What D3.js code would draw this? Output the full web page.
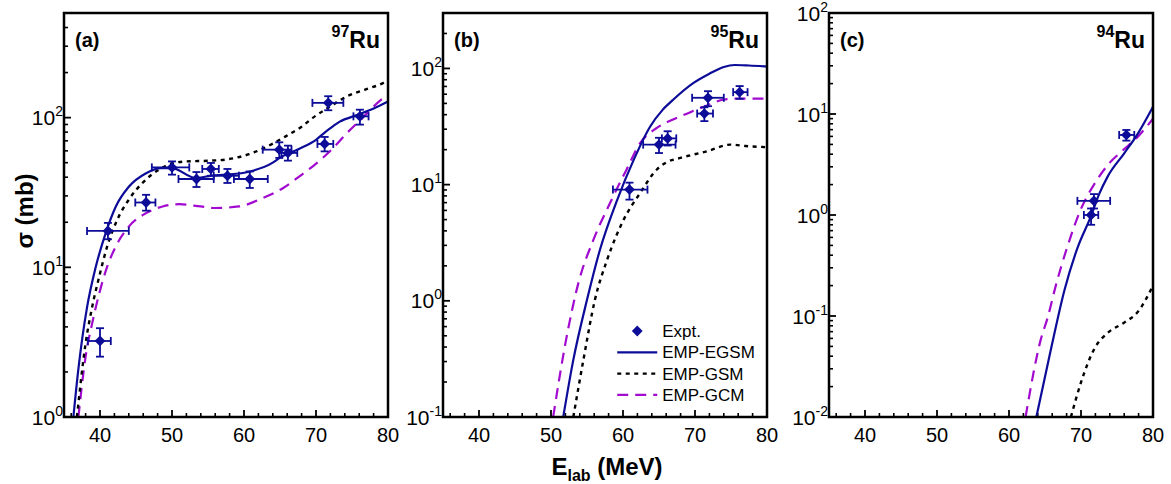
<!DOCTYPE html>
<html><head><meta charset="utf-8">
<script src="https://cdn.jsdelivr.net/npm/d3@7"></script>
<style>body{margin:0;background:#fff}svg{display:block;font-family:Arial,"Liberation Sans",sans-serif}</style>
</head><body><svg id="chart" width="1171" height="484"></svg>
<script>
// ---------- data ----------
const xDomain = [35, 80];
const xMajorTicks = [40, 50, 60, 70, 80];
const xMinorTicks = [36, 38, 42, 44, 46, 48, 52, 54, 56, 58, 62, 64, 66, 68, 72, 74, 76, 78];
const panelLabels = ["(a)", "(b)", "(c)"];
const massNumbers = ["97", "95", "94"];
const elementName = "Ru";
const yDomains = [[1, 500], [0.1, 300], [0.01, 100]];
const yMajorTicks = [[1, 10, 100], [0.1, 1, 10, 100], [0.01, 0.1, 1, 10, 100]];
const yTickExps = [["0", "1", "2"], ["-1", "0", "1", "2"], ["-2", "-1", "0", "1", "2"]];
const legendLabels = ["Expt.", "EMP-EGSM", "EMP-GSM", "EMP-GCM"];
const xLabelMain = "E", xLabelSub = "lab", xLabelRest = " (MeV)";
const yLabel = "σ (mb)";

// experimental points: [E, Elow, Ehigh, sigma, sigmaLow, sigmaHigh]
const exptA = [
  [40.0, 38.3, 41.5, 3.22, 2.53, 3.92],
  [41.1, 38.2, 44.0, 17.5, 15.4, 19.8],
  [46.4, 44.9, 47.7, 27.1, 23.9, 30.5],
  [50.0, 47.2, 52.4, 46.5, 41.6, 51.0],
  [53.4, 50.9, 55.8, 38.9, 34.4, 43.3],
  [55.4, 54.2, 56.5, 45.4, 40.9, 49.8],
  [57.7, 55.8, 59.3, 40.9, 36.6, 45.4],
  [60.8, 58.6, 63.3, 38.9, 33.9, 43.7],
  [64.9, 62.6, 66.6, 61.1, 53.8, 68.4],
  [66.1, 65.2, 67.4, 58.1, 51.6, 65.0],
  [71.2, 70.2, 72.4, 66.7, 59.5, 74.3],
  [71.7, 69.5, 73.8, 125.5, 112, 139],
  [76.1, 75.2, 77.3, 102, 89.8, 113]
];
const exptB = [
  [60.9, 58.6, 63.4, 9.06, 7.43, 10.4],
  [65.0, 62.8, 67.3, 22.1, 18.7, 25.3],
  [66.2, 65.4, 67.4, 25.0, 21.7, 28.8],
  [71.3, 70.3, 72.5, 40.9, 35.2, 46.3],
  [71.8, 69.6, 74.0, 55.9, 47.3, 63.7],
  [76.2, 75.3, 77.3, 62.5, 54.8, 70.5]
];
const exptC = [
  [71.4, 70.4, 72.4, 1.00, 0.80, 1.16],
  [71.8, 69.5, 74.05, 1.38, 1.16, 1.61],
  [76.3, 75.3, 77.4, 6.2, 5.45, 6.95]
];

// model curves: [E, sigma]
const egsmA = [[36.3,1],[37,2.1],[38.2,5.4],[39.4,10],[40.8,17],[42.2,25.5],[44,34.5],[46.4,42.5],[48.5,46],[50,46],[53.3,39.5],[55.5,41],[57.5,41.6],[60.7,43.5],[64,50],[65,54],[67.7,62],[70,71],[71,78],[72,85],[73.3,94],[75.7,104],[78,115],[80,128]];
const gsmA = [[36.8,1],[38,3.1],[38.9,5.4],[39.9,8.7],[41,13.8],[42.4,20.8],[44,28.3],[45.9,36.6],[48.2,45],[50,49.5],[52,51],[55,51.5],[57.5,52.5],[60.7,57],[64,67],[66,76],[68,87],[69.6,100],[72,119],[74.2,138],[77,155],[79.4,171],[80,178]];
const gcmA = [[37,1],[38,2.53],[38.9,4.2],[39.9,6.7],[41,10.1],[42.2,13.8],[44,18.7],[46.4,23],[48.7,25.5],[51,26.4],[54,25.5],[56,24.9],[59.3,25.5],[62.6,29],[65.5,34],[67.7,40.5],[69.6,47.5],[72,60],[74.3,79],[76.5,100],[78.9,130],[80,142]];
const egsmB = [[51.7,0.1],[53.1,0.31],[55,1.02],[56.8,2.75],[59.2,7.4],[61.5,16.4],[63.8,31.8],[65.5,44],[67,54],[69.8,75],[72,90],[74,103],[75.5,107],[77.5,106],[80,104]];
const gsmB = [[53.1,0.1],[54.5,0.31],[56.1,1.02],[57.8,2.26],[60.1,5.0],[62.4,8.5],[64.7,13.5],[66,15.5],[68,17],[71.7,19.4],[74.9,22.1],[77,21.5],[80,21]];
const gcmB = [[50.3,0.1],[52,0.43],[53.8,1.42],[55.9,3.36],[58.2,6.95],[60.5,13.5],[62.4,22.9],[64.7,30.8],[67.5,37.6],[70.3,44.4],[72,49],[74,54],[76,55],[80,55]];
const egsmC = [[63.8,0.01],[65.8,0.046],[67.7,0.18],[69.5,0.47],[71.4,0.98],[72.5,1.6],[73.7,2.4],[76,4.08],[77.9,6.4],[80,11.8]];
const gsmC = [[68.6,0.01],[70,0.022],[71.9,0.048],[73.7,0.068],[76,0.086],[77.9,0.11],[80,0.2]];
const gcmC = [[62.3,0.01],[64.4,0.058],[65.4,0.098],[66.5,0.2],[68,0.46],[70,1.15],[72,2.1],[74,3.3],[75.6,4.24],[77.9,5.96],[80,9.0]];

const exptSets = [exptA, exptB, exptC];
const egsmSets = [egsmA, egsmB, egsmC];
const gsmSets = [gsmA, gsmB, gsmC];
const gcmSets = [gcmA, gcmB, gcmC];

// ---------- layout / style ----------
const panelLeft = [64, 443, 829];
const panelW = 324, plotTop = 13, plotBottom = 417;
const cBlue = "#0c0c98", cBlack = "#000", cPurple = "#a20ad0";
const styleEGSM = {stroke: cBlue, dash: null, w: 2.2};
const styleGSM = {stroke: cBlack, dash: "4,4.5", w: 2.4};
const styleGCM = {stroke: cPurple, dash: "11,7", w: 2.2};

const svg = d3.select("#chart");
const diamond = d3.symbol().type(d3.symbolSquare).size(58);

panelLeft.forEach((left, i) => {
  const x = d3.scaleLinear().domain(xDomain).range([left, left + panelW]);
  const y = d3.scaleLog().domain(yDomains[i]).range([plotBottom, plotTop]);
  const g = svg.append("g");

  const clipId = "clip" + i;
  svg.append("clipPath").attr("id", clipId).append("rect")
    .attr("x", left).attr("y", plotTop).attr("width", panelW).attr("height", plotBottom - plotTop);

  // ticks
  const [ymin, ymax] = yDomains[i];
  const minor = [];
  for (let e = Math.floor(Math.log10(ymin)); e <= Math.ceil(Math.log10(ymax)); e++) {
    for (let m = 2; m <= 9; m++) { const v = m * Math.pow(10, e); if (v > ymin && v < ymax) minor.push(v); }
  }
  g.selectAll(".ymin").data(minor).join("line")
    .attr("x1", left).attr("x2", left + 4).attr("y1", d => y(d)).attr("y2", d => y(d))
    .attr("stroke", "#000").attr("stroke-width", 1.6);
  g.selectAll(".ymaj").data(yMajorTicks[i]).join("line")
    .attr("x1", left).attr("x2", left + 7).attr("y1", d => y(d)).attr("y2", d => y(d))
    .attr("stroke", "#000").attr("stroke-width", 1.8);
  g.selectAll(".xmin").data(xMinorTicks).join("line")
    .attr("x1", d => x(d)).attr("x2", d => x(d)).attr("y1", plotBottom).attr("y2", plotBottom - 4)
    .attr("stroke", "#000").attr("stroke-width", 1.6);
  g.selectAll(".xmaj").data(xMajorTicks).join("line")
    .attr("x1", d => x(d)).attr("x2", d => x(d)).attr("y1", plotBottom).attr("y2", plotBottom - 7)
    .attr("stroke", "#000").attr("stroke-width", 1.8);

  // tick labels
  g.selectAll(".xl").data(xMajorTicks).join("text")
    .attr("x", d => x(d)).attr("y", plotBottom + 25).attr("text-anchor", "middle")
    .attr("font-size", 20).text(d => d);
  const yl = g.selectAll(".yl").data(yMajorTicks[i]).join("text")
    .attr("x", left - 1).attr("y", d => y(d) + 7.5).attr("text-anchor", "end").attr("font-size", 21);
  yl.append("tspan").text("10");
  yl.append("tspan").attr("font-size", 14).attr("dy", -9).text((d, k) => yTickExps[i][k]);

  // curves
  const line = d3.line().x(d => x(d[0])).y(d => y(d[1])).curve(d3.curveMonotoneX);
  const cg = g.append("g").attr("clip-path", `url(#${clipId})`);
  [[gcmSets[i], styleGCM], [gsmSets[i], styleGSM], [egsmSets[i], styleEGSM]].forEach(([data, s]) => {
    cg.append("path").datum(data).attr("d", line).attr("fill", "none")
      .attr("stroke", s.stroke).attr("stroke-width", s.w)
      .attr("stroke-dasharray", s.dash);
  });

  // experimental points with error bars
  const eg = cg.append("g").attr("stroke", cBlue).attr("stroke-width", 1.8);
  exptSets[i].forEach(p => {
    const [E, El, Eh, s, sl, sh] = p;
    const cx = x(E), cy = y(s);
    eg.append("line").attr("x1", x(El)).attr("x2", x(Eh)).attr("y1", cy).attr("y2", cy);
    eg.append("line").attr("x1", x(El)).attr("x2", x(El)).attr("y1", cy - 4).attr("y2", cy + 4);
    eg.append("line").attr("x1", x(Eh)).attr("x2", x(Eh)).attr("y1", cy - 4).attr("y2", cy + 4);
    eg.append("line").attr("x1", cx).attr("x2", cx).attr("y1", y(sl)).attr("y2", y(sh));
    eg.append("line").attr("x1", cx - 4).attr("x2", cx + 4).attr("y1", y(sl)).attr("y2", y(sl));
    eg.append("line").attr("x1", cx - 4).attr("x2", cx + 4).attr("y1", y(sh)).attr("y2", y(sh));
    cg.append("path").attr("d", diamond).attr("fill", cBlue)
      .attr("transform", `translate(${cx},${cy}) rotate(45)`);
  });

  // frame
  g.append("rect").attr("x", left).attr("y", plotTop).attr("width", panelW).attr("height", plotBottom - plotTop)
    .attr("fill", "none").attr("stroke", "#000").attr("stroke-width", 2.5);

  // panel labels
  g.append("text").attr("x", left + 11).attr("y", plotTop + 34).attr("font-size", 20)
    .attr("font-weight", "bold").text(panelLabels[i]);
  const nt = g.append("text").attr("x", left + panelW - 8).attr("y", plotTop + 35)
    .attr("text-anchor", "end").attr("font-weight", "bold").attr("font-size", 23);
  nt.append("tspan").attr("font-size", 16).attr("dy", -11).text(massNumbers[i]);
  nt.append("tspan").attr("dy", 11).text(elementName);

  // legend in panel (b)
  if (i === 1) {
    const lx = x(59.2), ly0 = 331, dy = 21.3;
    const lg = g.append("g");
    lg.append("path").attr("d", diamond).attr("fill", cBlue)
      .attr("transform", `translate(${lx + 20},${ly0}) rotate(45)`);
    [styleEGSM, styleGSM, styleGCM].forEach((s, k) => {
      lg.append("line").attr("x1", lx).attr("x2", lx + 40)
        .attr("y1", ly0 + dy * (k + 1)).attr("y2", ly0 + dy * (k + 1))
        .attr("stroke", s.stroke).attr("stroke-width", s.w).attr("stroke-dasharray", s.dash);
    });
    legendLabels.forEach((t, k) => {
      lg.append("text").attr("x", lx + 45).attr("y", ly0 + dy * k + 6)
        .attr("font-size", 17).text(t);
    });
  }

  if (i === 1) {
    const xt = svg.append("text").attr("x", left + panelW / 2 + 2).attr("y", 475)
      .attr("text-anchor", "middle").attr("font-weight", "bold").attr("font-size", 24);
    xt.append("tspan").text(xLabelMain);
    xt.append("tspan").attr("font-size", 16).attr("dy", 6).text(xLabelSub);
    xt.append("tspan").attr("dy", -6).text(xLabelRest);
  }
});

svg.append("text").attr("transform", "translate(33,211) rotate(-90)")
  .attr("text-anchor", "middle").attr("font-weight", "bold").attr("font-size", 24).text(yLabel);
</script>
</body></html>
